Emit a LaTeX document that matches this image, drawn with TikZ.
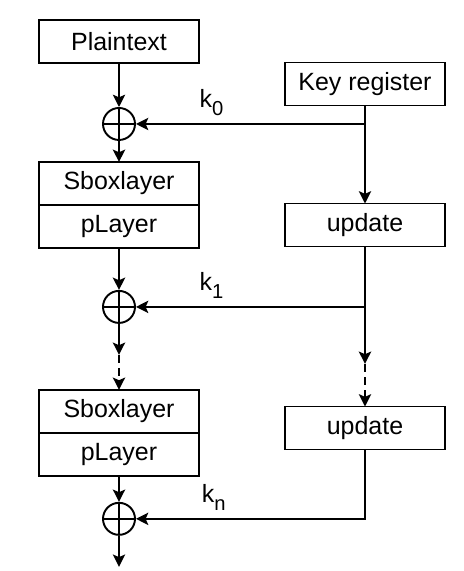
\documentclass[tikz,border=0pt]{standalone}
\usepackage{fontspec}
\setmainfont{Liberation Sans}
\usetikzlibrary{arrows.meta, positioning, calc}

\newcommand{\ksub}[1]{k\raisebox{-0.32em}{\fontsize{11.5}{13}\selectfont #1}}

\begin{document}
\begin{tikzpicture}[
  node distance=0.5cm,
  box/.style={rectangle, minimum width=3.2cm, minimum height=0.86cm,
              text centered, font=\fontsize{14.2}{17}\selectfont,
              draw, line width=1.1pt, outer sep=0pt},
  xorop/.style={circle, draw, line width=1.1pt, minimum size=0.64cm,
                inner sep=0pt,
                path picture={\draw[line width=1.1pt]
                  (path picture bounding box.north) -- (path picture bounding box.south)
                  (path picture bounding box.west) -- (path picture bounding box.east);}},
  arr/.style={-{Stealth[length=7pt, width=7pt, inset=1.5pt]}, line width=1.1pt},
  dsh/.style={arr, dash pattern=on 4.5pt off 3pt},
  klbl/.style={font=\fontsize{14.2}{17}\selectfont, above, inner sep=4pt},
]
  \useasboundingbox (0,0) rectangle (9.28,-11.42);

  % data path
  \node[box] at (2.38,-0.83) (plain) {Plaintext};
  \node[xorop, below=0.88cm of plain] (xor0) {};
  \node[box, below=0.42cm of xor0]  (sbox1) {Sboxlayer};
  \node[box, below=0pt of sbox1]    (play1) {pLayer};
  \node[xorop, below=0.84cm of play1] (xor1) {};
  \coordinate[below=0.62cm of xor1] (ldash);
  \node[box, below=1.32cm of xor1]  (sbox2) {Sboxlayer};
  \node[box, below=0pt of sbox2]    (play2) {pLayer};
  \node[xorop, below=0.52cm of play2] (xor2) {};
  \coordinate[below=0.62cm of xor2] (out);

  % key schedule
  \node[box, right=1.72cm of plain, yshift=-0.85cm] (keyreg) {Key register};
  \node[box, below=1.96cm of keyreg] (update1) {update};
  \node[box, below=3.2cm of update1] (update2) {update};
  \coordinate (rjoin) at (update1 |- xor1);
  \coordinate[below=1.14cm of rjoin] (rdash);

  \draw[arr] (plain) -- (xor0);
  \draw[arr] (xor0)  -- (sbox1);
  \draw[arr] (play1) -- (xor1);
  \draw[arr] (xor1)  -- (ldash);
  \draw[dsh] (ldash) -- (sbox2);
  \draw[arr] (play2) -- (xor2);
  \draw[arr] (xor2)  -- (out);

  \draw[arr] (keyreg) -- (update1);
  \draw[arr] (keyreg |- xor0) -- node[klbl, pos=0.67]{\ksub{0}} (xor0);
  \draw[arr] (update1) -- (rdash);
  \draw[dsh] (rdash) -- (update2);
  \draw[arr] (rjoin) -- node[klbl, pos=0.67]{\ksub{1}} (xor1);
  \draw[arr] (update2) |- node[klbl, pos=0.83]{\ksub{n}} (xor2);
\end{tikzpicture}
\end{document}
